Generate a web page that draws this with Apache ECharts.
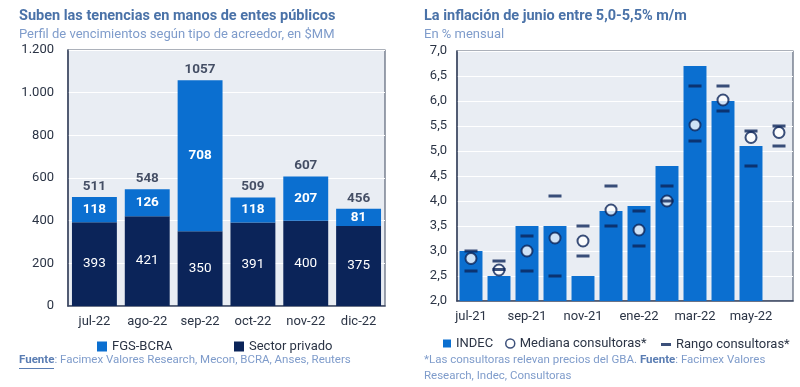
<!DOCTYPE html>
<html><head><meta charset="utf-8">
<script src="https://cdn.jsdelivr.net/npm/echarts@6/dist/echarts.min.js"></script>
<style>html,body{margin:0;padding:0;background:#fff}#c{width:800px;height:387px}</style>
</head><body><div id="c"></div>
<script>
// Left chart data
var monthsL = ['jul-22','ago-22','sep-22','oct-22','nov-22','dic-22'];
var fgsBcra = [118,126,708,118,207,81];
var privado = [393,421,350,391,400,375];
var totals = [511,548,1057,509,607,456];
var yTicksL = [0,200,400,600,800,1000,1200];
// Right chart data
var monthsR = ['jul-21','ago-21','sep-21','oct-21','nov-21','dic-21','ene-22','feb-22','mar-22','abr-22','may-22','jun-22'];
var indec = [3.0,2.5,3.5,3.5,2.5,3.8,3.9,4.7,6.7,6.0,5.1,null];
var mediana = [2.85,2.62,3.0,3.26,3.2,3.82,3.42,4.0,5.52,6.02,5.27,5.37];
var rangoMax = [3.0,2.8,3.3,4.1,3.5,4.3,3.8,4.3,6.3,6.3,5.4,5.5];
var rangoMin = [2.6,2.63,2.6,2.5,2.9,3.5,3.1,4.0,5.2,5.8,4.7,5.1];

var NAVY = '#0b2459', BLUE = '#0b6fd0', BG = '#e9edf3', TXT = '#2b3445', TITLE = '#4a72a8', SUB = '#7f9ccb';
var FONT = 'Roboto';

var chart = echarts.init(document.getElementById('c'));
function fmtThousands(v){ return String(v).replace(/\B(?=(\d{3})+(?!\d))/g,'.'); }

chart.setOption({
  textStyle:{fontFamily:FONT},
  animation:false,
  title:[
    {text:'Suben las tenencias en manos de entes públicos', subtext:'Perfil de vencimientos según tipo de acreedor, en $MM',
     left:14, top:4, itemGap:4,
     textStyle:{fontFamily:FONT,fontSize:14.5,fontWeight:'bold',color:TITLE},
     subtextStyle:{fontFamily:FONT,fontSize:13,color:SUB}},
    {text:'La inflación de junio entre 5,0-5,5% m/m', subtext:'En % mensual',
     left:419, top:4, itemGap:4,
     textStyle:{fontFamily:FONT,fontSize:14.5,fontWeight:'bold',color:TITLE},
     subtextStyle:{fontFamily:FONT,fontSize:13,color:SUB}}
  ],
  grid:[
    {left:68, right:415, top:50, bottom:81, show:true, backgroundColor:BG, borderColor:'#5b6477', borderWidth:1.2},
    {left:457, right:7, top:51, bottom:86, show:true, backgroundColor:BG, borderColor:'#5b6477', borderWidth:1.2}
  ],
  legend:[
    {data:[{name:'FGS-BCRA',icon:'rect'}], left:92, top:335, itemWidth:10, itemHeight:10,
     textStyle:{fontFamily:FONT,fontSize:13,color:TXT}},
    {data:[{name:'Sector privado',icon:'rect'}], left:229, top:335, itemWidth:10, itemHeight:10,
     textStyle:{fontFamily:FONT,fontSize:13,color:TXT}},
    {data:[{name:'INDEC',icon:'rect'}], left:438, top:332, itemWidth:8, itemHeight:8,
     textStyle:{fontFamily:FONT,fontSize:13,color:TXT}},
    {data:[{name:'Mediana consultoras*',icon:'circle'}], left:500, top:332, itemWidth:9, itemHeight:9,
     itemStyle:{borderWidth:1.5},
     textStyle:{fontFamily:FONT,fontSize:13,color:TXT}},
    {data:[{name:'Rango consultoras*',icon:'rect'}], left:656, top:333, itemWidth:10, itemHeight:3,
     textStyle:{fontFamily:FONT,fontSize:13,color:TXT}}
  ],
  xAxis:[
    {gridIndex:0, type:'category', data:monthsL, axisTick:{show:false}, axisLine:{show:true,lineStyle:{color:'#3b4660',width:1.5}},
     axisLabel:{fontFamily:FONT,fontSize:13,color:TXT,margin:9}},
    {gridIndex:1, type:'category', data:monthsR, axisTick:{show:false}, axisLine:{show:true,lineStyle:{color:'#3b4660',width:1.5}},
     axisLabel:{fontFamily:FONT,fontSize:13,color:TXT,margin:9,interval:1}}
  ],
  yAxis:[
    {gridIndex:0, type:'value', min:yTicksL[0], max:yTicksL[yTicksL.length-1], interval:200,
     axisLine:{show:true,lineStyle:{color:'#3b4660',width:1.5}}, axisTick:{show:false},
     splitLine:{lineStyle:{color:'#ffffff',width:1.2}},
     axisLabel:{fontFamily:FONT,fontSize:13,color:TXT,margin:14,formatter:fmtThousands}},
    {gridIndex:1, type:'value', min:2, max:7, interval:0.5,
     axisLine:{show:true,lineStyle:{color:'#3b4660',width:1.5}}, axisTick:{show:false},
     splitLine:{lineStyle:{color:'#ffffff',width:1.2}},
     axisLabel:{fontFamily:FONT,fontSize:13,color:TXT,margin:10,formatter:function(v){return v.toFixed(1).replace('.',',');}}}
  ],
  series:[
    {name:'Sector privado', type:'bar', xAxisIndex:0, yAxisIndex:0, stack:'a', data:privado, barCategoryGap:'15%',
     itemStyle:{color:NAVY},
     label:{show:true,position:'inside',color:'#ffffff',fontFamily:FONT,fontSize:13.5}},
    {name:'FGS-BCRA', type:'bar', xAxisIndex:0, yAxisIndex:0, stack:'a', data:fgsBcra,
     itemStyle:{color:BLUE},
     label:{show:true,position:'inside',color:'#ffffff',fontFamily:FONT,fontSize:13.5,fontWeight:'bold'}},
    {name:'Total', type:'scatter', xAxisIndex:0, yAxisIndex:0, data:totals, symbolSize:1, itemStyle:{color:'rgba(0,0,0,0)'},
     label:{show:true,position:'top',distance:3,color:'#1a2640',fontFamily:FONT,fontSize:13.5,fontWeight:'bold'}},
    {name:'INDEC', type:'bar', xAxisIndex:1, yAxisIndex:1, data:indec, barCategoryGap:'18%', itemStyle:{color:BLUE}},
    {name:'Mediana consultoras*', type:'scatter', xAxisIndex:1, yAxisIndex:1, data:mediana, symbol:'circle', symbolSize:11,
     itemStyle:{color:'#ffffff',borderColor:NAVY,borderWidth:2}},
    {name:'Rango consultoras*', type:'scatter', xAxisIndex:1, yAxisIndex:1, data:rangoMax, symbol:'rect', symbolSize:[13,3],
     itemStyle:{color:NAVY}},
    {name:'Rango consultoras*', type:'scatter', xAxisIndex:1, yAxisIndex:1, data:rangoMin, symbol:'rect', symbolSize:[13,3],
     itemStyle:{color:NAVY}}
  ],
  graphic:[
    {type:'text', left:19, top:354, style:{text:'{u|Fuente}{n|: Facimex Valores Research, Mecon, BCRA, Anses, Reuters}',
      rich:{u:{fontFamily:FONT,fontSize:11.5,fontWeight:'bold',fill:'#5a7db3'},n:{fontFamily:FONT,fontSize:11.5,fill:SUB}}}},
    {type:'rect', left:19, top:368, shape:{width:35,height:1}, style:{fill:'#5a7db3'}},
    {type:'text', left:424, top:354, style:{text:'{n|*Las consultoras relevan precios del GBA. }{u|Fuente}{n|: Facimex Valores}\n{n|Research, Indec, Consultoras}',
      rich:{u:{fontFamily:FONT,fontSize:11.5,fontWeight:'bold',fill:'#5a7db3',lineHeight:16},n:{fontFamily:FONT,fontSize:11.5,fill:SUB,lineHeight:16}}}}
  ]
});
</script></body></html>
